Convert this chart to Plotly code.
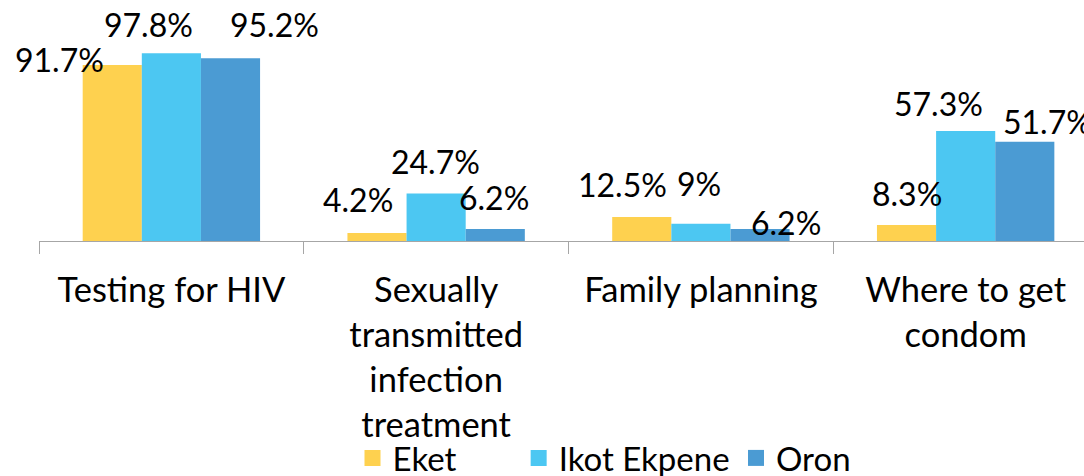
import plotly.graph_objects as go

categories = ["Testing for HIV", "Sexually<br>transmitted<br>infection<br>treatment",
              "Family planning", "Where to get<br>condom"]
series_names = ["Eket", "Ikot Ekpene", "Oron"]
eket = [91.7, 4.2, 12.5, 8.3]
ikot_ekpene = [97.8, 24.7, 9.0, 57.3]
oron = [95.2, 6.2, 6.2, 51.7]
label_text = [["91.7%", "4.2%", "12.5%", "8.3%"],
              ["97.8%", "24.7%", "9%", "57.3%"],
              ["95.2%", "6.2%", "6.2%", "51.7%"]]

colors = ["#FED14F", "#4CC7F2", "#4B9BD3"]
# label pixel offsets (style): (dx, dy up) relative to bar top centre
label_offsets = [[(-53, 5), (-19, 33), (-19, 33), (0, 32)],
                 [(-23, 29), (-1, 32), (-2, 40), (-27, 27)],
                 [(44, 34), (-1, 32), (26, 7), (23, 20)]]
legend_x = [0.300, 0.459, 0.667]

FONT = "Lato"
fs_lab = 32
fs_tick = 34.5
fs_leg = 33
bargap = 0.33
bar_w = (1 - bargap) / 3

fig = go.Figure()
all_vals = [eket, ikot_ekpene, oron]
legend_keys = ["legend", "legend2", "legend3"]
for j, (name, vals) in enumerate(zip(series_names, all_vals)):
    fig.add_trace(go.Bar(x=categories, y=vals, name=name, marker_color=colors[j],
                         marker_line_width=0, showlegend=False, hoverinfo="skip"))
    # legend proxy
    fig.add_trace(go.Scatter(x=[None], y=[None], mode="markers", name=name,
                             legend=legend_keys[j],
                             marker=dict(symbol="square", size=20, color=colors[j])))
    for i, v in enumerate(vals):
        dx, dy = label_offsets[j][i]
        fig.add_annotation(x=i + (j - 1) * bar_w, y=v, text=label_text[j][i],
                           showarrow=False, xanchor="center", yanchor="middle",
                           xshift=dx, yshift=dy,
                           font=dict(family=FONT, size=fs_lab, color="black"))

leg_common = dict(orientation="h", y=-1.13, xanchor="left", yanchor="middle",
                  font=dict(family=FONT, size=fs_leg, color="black"),
                  itemclick=False, bgcolor="rgba(0,0,0,0)")
fig.update_layout(
    width=1084, height=476,
    margin=dict(l=39, r=0, t=49, b=235, autoexpand=False),
    barmode="group", bargap=bargap, bargroupgap=0,
    plot_bgcolor="white", paper_bgcolor="white",
    font=dict(family=FONT, size=fs_tick, color="black"),
    legend=dict(x=legend_x[0], **leg_common),
    legend2=dict(x=legend_x[1], **leg_common),
    legend3=dict(x=legend_x[2], **leg_common),
    showlegend=True,
)
fig.update_xaxes(
    type="category", categoryorder="array", categoryarray=categories,
    range=[-0.5, 3.447], tickangle=0,
    showline=True, linecolor="#A6A6A6", linewidth=1,
    ticks="outside", tickson="boundaries", ticklen=12, tickcolor="#A6A6A6",
    ticklabelstandoff=19,
    showgrid=False, zeroline=False, fixedrange=True,
    tickfont=dict(family=FONT, size=fs_tick, color="black"),
)
fig.update_yaxes(range=[0, 100], visible=False, showgrid=False, zeroline=False)

fig.write_html("out.html", config={"displayModeBar": False},
               post_script="document.body.style.margin='0';")
